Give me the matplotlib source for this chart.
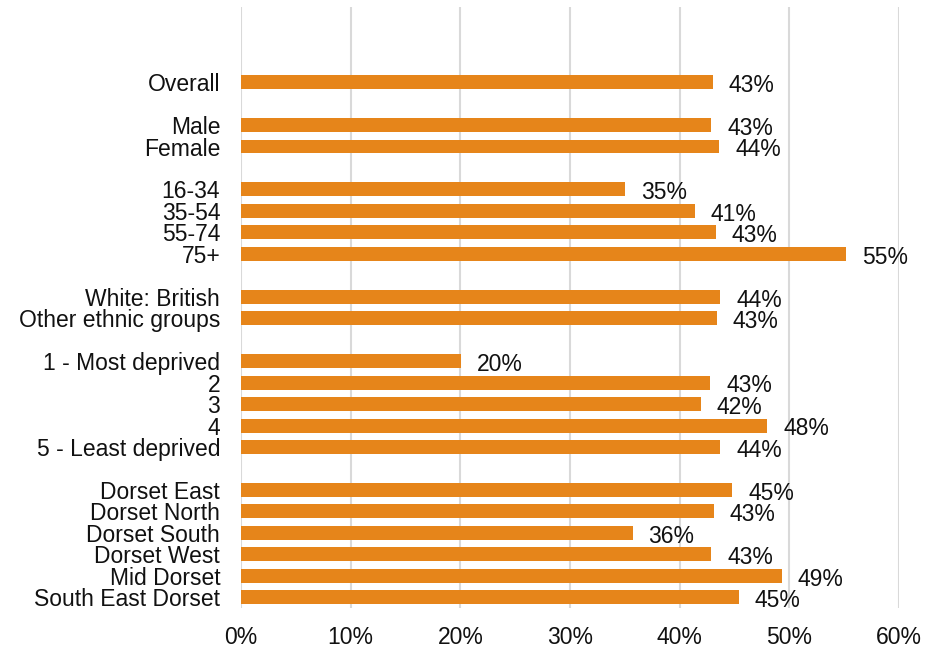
import matplotlib.pyplot as plt
import numpy as np

plt.rcParams['font.family'] = ['Liberation Sans', 'DejaVu Sans']

# categories grouped, with a blank row between groups
groups = [
    ['Overall'],
    ['Male', 'Female'],
    ['16-34', '35-54', '55-74', '75+'],
    ['White: British', 'Other ethnic groups'],
    ['1 - Most deprived', '2', '3', '4', '5 - Least deprived'],
    ['Dorset East', 'Dorset North', 'Dorset South', 'Dorset West', 'Mid Dorset', 'South East Dorset'],
]
values = [
    [43.0],
    [42.9, 43.6],
    [35.0, 41.4, 43.3, 55.2],
    [43.7, 43.4],
    [20.1, 42.8, 41.9, 48.0, 43.7],
    [44.8, 43.1, 35.7, 42.9, 49.3, 45.4],
]
labels = [
    ['43%'],
    ['43%', '44%'],
    ['35%', '41%', '43%', '55%'],
    ['44%', '43%'],
    ['20%', '43%', '42%', '48%', '44%'],
    ['45%', '43%', '36%', '43%', '49%', '45%'],
]

names, vals, texts, pos = [], [], [], []
row = 3  # three blank rows at the top
for g, v, t in zip(groups, values, labels):
    for n, x, s in zip(g, v, t):
        names.append(n)
        vals.append(x)
        texts.append(s)
        pos.append(row)
        row += 1
    row += 1
total_rows = row - 1

fig = plt.figure(figsize=(9.25, 6.53), dpi=100)
ax = fig.add_axes([241 / 925, 1 - 608 / 653, (899 - 241) / 925, (608 - 7) / 653])

ax.barh(pos, vals, height=0.65, color='#E6851A', zorder=3)
for p, x, s in zip(pos, vals, texts):
    ax.text(x + 1.45, p + 0.46, s, va='baseline', ha='left', fontsize=16.5, color='#111111')

ax.set_ylim(total_rows - 0.5, -0.5)
ax.set_xlim(0, 60)
ax.set_xticks(np.arange(0, 61, 10))
ax.set_xticklabels([f'{x}%' for x in range(0, 61, 10)])
ax.set_yticks(pos)
ax.set_yticklabels(names)
ax.tick_params(axis='both', length=0, labelsize=16.5, colors='#111111')
ax.tick_params(axis='y', pad=15)
ax.tick_params(axis='x', pad=13)
ax.grid(axis='x', color='#d9d9d9', linewidth=1.5, zorder=0)
for sp in ax.spines.values():
    sp.set_visible(False)

fig.savefig('out.png', dpi=100)
